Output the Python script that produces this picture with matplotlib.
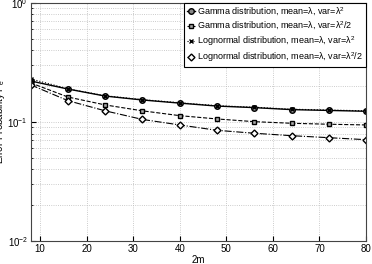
import numpy as np
import matplotlib.pyplot as plt

m2 = [8, 16, 24, 32, 40, 48, 56, 64, 72, 80]
gamma_full = [0.221, 0.189, 0.165, 0.153, 0.144, 0.136, 0.132, 0.127, 0.125, 0.123]
gamma_half = [0.213, 0.162, 0.139, 0.124, 0.113, 0.106, 0.1006, 0.0975, 0.0957, 0.0944]
logn_full = [0.230, 0.190, 0.166, 0.154, 0.145, 0.137, 0.133, 0.128, 0.126, 0.124]
logn_half = [0.205, 0.151, 0.124, 0.105, 0.0944, 0.0851, 0.0804, 0.0767, 0.0738, 0.071]

plt.rcParams['font.family'] = 'Liberation Sans'
plt.rcParams['mathtext.fontset'] = 'custom'
plt.rcParams['mathtext.rm'] = 'Liberation Sans'
plt.rcParams['mathtext.default'] = 'rm'
fig = plt.figure(figsize=(3.72, 2.64), dpi=100)
ax = fig.add_axes([0.0825, 0.087, 0.9015, 0.902])

ax.plot(m2, gamma_full, 'k-', marker='o', ms=4, mfc='#888888', mec='k', lw=1,
        label='Gamma distribution, mean=λ, var=λ$^2$')
ax.plot(m2, gamma_half, 'k--', marker='s', ms=3.5, mfc='#aaaaaa', mec='k', lw=0.8,
        label='Gamma distribution, mean=λ, var=λ$^2$/2')
ax.plot(m2, logn_full, 'k:', marker='x', ms=3.5, lw=0.8,
        label='Lognormal distribution, mean=λ, var=λ$^2$')
ax.plot(m2, logn_half, 'k-.', marker='D', ms=3.5, mfc='white', mec='k', lw=0.8,
        label='Lognormal distribution, mean=λ, var=λ$^2$/2')

ax.set_yscale('log')
ax.set_xlim(8, 80)
ax.set_ylim(1e-2, 1)
ax.set_xticks([10, 20, 30, 40, 50, 60, 70, 80])
ax.grid(True, which='both', ls=':', color='#bbbbbb', lw=0.6)
ax.tick_params(which='both', direction='in', labelsize=7, pad=2)
ax.tick_params(which='minor', length=1.5)
for s in ax.spines.values():
    s.set_color('#444444')
ax.set_xlabel('2m', fontsize=7, labelpad=1)
ax.set_ylabel('Error Probability P$_e$', fontsize=7, labelpad=0)

leg = ax.legend(loc='upper right', fontsize=6.5, handlelength=0.9, handletextpad=0.3,
                borderpad=0.3, labelspacing=0.25, fancybox=False, framealpha=1,
                borderaxespad=0)
leg.get_frame().set_edgecolor('k')
leg.get_frame().set_linewidth(0.8)

plt.savefig('out.png', dpi=100)
